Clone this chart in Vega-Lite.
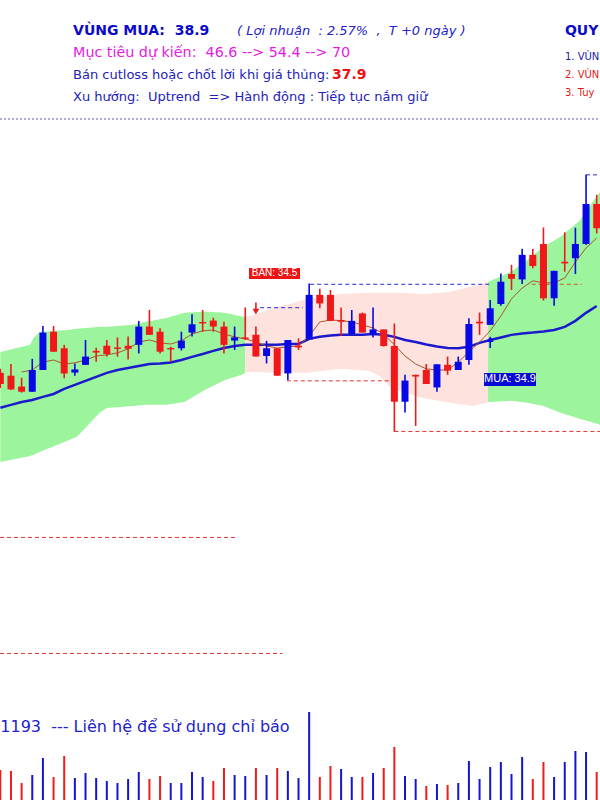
{
"$schema":"https://vega.github.io/schema/vega-lite/v6.json",
"width":600,"height":800,"padding":0,
"autosize":{"type":"none"},
"background":"white",
"config":{"view":{"stroke":null},"scale":{"continuousPadding":0}},
"datasets":{
"candles":[
{"i":0,"o":33.95,"h":34.09,"l":33.42,"c":33.56,"dir":"down","vol":300,"vdir":"down","ma20":32.73,"ma5":null},
{"i":1,"o":33.85,"h":34.26,"l":33.35,"c":33.37,"dir":"down","vol":290,"vdir":"down","ma20":32.83,"ma5":null},
{"i":2,"o":33.47,"h":33.78,"l":33.26,"c":33.29,"dir":"down","vol":170,"vdir":"down","ma20":32.93,"ma5":33.98},
{"i":3,"o":33.29,"h":34.44,"l":33.28,"c":34.05,"dir":"up","vol":250,"vdir":"up","ma20":33.00,"ma5":34.05},
{"i":4,"o":34.05,"h":35.59,"l":34.05,"c":35.36,"dir":"up","vol":420,"vdir":"up","ma20":33.11,"ma5":34.33},
{"i":5,"o":35.39,"h":35.59,"l":34.68,"c":34.69,"dir":"down","vol":230,"vdir":"down","ma20":33.21,"ma5":34.40},
{"i":6,"o":34.81,"h":34.93,"l":33.76,"c":33.93,"dir":"down","vol":440,"vdir":"down","ma20":33.39,"ma5":34.26},
{"i":7,"o":33.96,"h":34.28,"l":33.85,"c":34.07,"dir":"up","vol":220,"vdir":"up","ma20":33.53,"ma5":34.30},
{"i":8,"o":34.23,"h":35.10,"l":34.23,"c":34.52,"dir":"up","vol":270,"vdir":"up","ma20":33.67,"ma5":34.40},
{"i":9,"o":34.72,"h":34.83,"l":34.34,"c":34.66,"dir":"down","vol":220,"vdir":"up","ma20":33.81,"ma5":34.54},
{"i":10,"o":34.90,"h":35.10,"l":34.52,"c":34.61,"dir":"down","vol":190,"vdir":"up","ma20":33.95,"ma5":34.58},
{"i":11,"o":34.84,"h":35.19,"l":34.52,"c":34.79,"dir":"down","vol":170,"vdir":"up","ma20":34.05,"ma5":34.65},
{"i":12,"o":34.90,"h":35.22,"l":34.42,"c":34.79,"dir":"down","vol":210,"vdir":"up","ma20":34.12,"ma5":34.79},
{"i":13,"o":34.93,"h":35.77,"l":34.63,"c":35.57,"dir":"up","vol":280,"vdir":"up","ma20":34.19,"ma5":35.03},
{"i":14,"o":35.57,"h":36.15,"l":35.28,"c":35.28,"dir":"down","vol":210,"vdir":"down","ma20":34.26,"ma5":35.10},
{"i":15,"o":35.39,"h":35.51,"l":34.63,"c":34.69,"dir":"down","vol":240,"vdir":"down","ma20":34.28,"ma5":35.00},
{"i":16,"o":34.82,"h":34.87,"l":34.34,"c":34.77,"dir":"down","vol":170,"vdir":"up","ma20":34.31,"ma5":34.96},
{"i":17,"o":34.81,"h":35.39,"l":34.73,"c":35.08,"dir":"up","vol":170,"vdir":"up","ma20":34.40,"ma5":35.07},
{"i":18,"o":35.36,"h":36.00,"l":35.22,"c":35.65,"dir":"up","vol":280,"vdir":"up","ma20":34.51,"ma5":35.31},
{"i":19,"o":35.73,"h":36.15,"l":35.39,"c":35.68,"dir":"down","vol":230,"vdir":"up","ma20":34.61,"ma5":35.42},
{"i":20,"o":35.78,"h":35.88,"l":35.39,"c":35.57,"dir":"down","vol":190,"vdir":"down","ma20":34.72,"ma5":35.45},
{"i":21,"o":35.57,"h":35.74,"l":34.63,"c":34.93,"dir":"down","vol":320,"vdir":"down","ma20":34.82,"ma5":35.31},
{"i":22,"o":35.08,"h":35.57,"l":34.75,"c":35.19,"dir":"up","vol":250,"vdir":"up","ma20":34.89,"ma5":35.21},
{"i":23,"o":35.19,"h":36.24,"l":35.10,"c":35.14,"dir":"down","vol":240,"vdir":"up","ma20":34.93,"ma5":35.14},
{"i":24,"o":35.28,"h":35.57,"l":34.52,"c":34.52,"dir":"down","vol":320,"vdir":"down","ma20":34.93,"ma5":35.03},
{"i":25,"o":34.54,"h":35.07,"l":34.28,"c":34.81,"dir":"up","vol":250,"vdir":"up","ma20":34.93,"ma5":34.89},
{"i":26,"o":34.81,"h":34.81,"l":33.85,"c":33.85,"dir":"down","vol":320,"vdir":"down","ma20":34.93,"ma5":34.82},
{"i":27,"o":33.93,"h":35.10,"l":33.70,"c":35.10,"dir":"up","vol":290,"vdir":"up","ma20":34.96,"ma5":34.86},
{"i":28,"o":34.90,"h":35.16,"l":34.75,"c":34.84,"dir":"down","vol":220,"vdir":"up","ma20":34.96,"ma5":34.89},
{"i":29,"o":35.12,"h":37.08,"l":35.10,"c":36.68,"dir":"up","vol":880,"vdir":"up","ma20":35.14,"ma5":35.24},
{"i":30,"o":36.68,"h":36.89,"l":36.21,"c":36.38,"dir":"down","vol":230,"vdir":"down","ma20":35.21,"ma5":35.73},
{"i":31,"o":36.68,"h":36.85,"l":35.77,"c":35.77,"dir":"down","vol":340,"vdir":"down","ma20":35.26,"ma5":35.80},
{"i":32,"o":35.80,"h":36.24,"l":35.24,"c":35.74,"dir":"down","vol":310,"vdir":"up","ma20":35.28,"ma5":35.78},
{"i":33,"o":35.31,"h":36.15,"l":35.31,"c":35.77,"dir":"up","vol":230,"vdir":"up","ma20":35.28,"ma5":35.73},
{"i":34,"o":36.03,"h":36.06,"l":35.36,"c":35.36,"dir":"down","vol":230,"vdir":"down","ma20":35.28,"ma5":35.63},
{"i":35,"o":35.31,"h":36.24,"l":35.19,"c":35.47,"dir":"up","vol":270,"vdir":"up","ma20":35.31,"ma5":35.52},
{"i":36,"o":35.47,"h":35.47,"l":34.87,"c":34.89,"dir":"down","vol":320,"vdir":"down","ma20":35.28,"ma5":35.31},
{"i":37,"o":34.89,"h":35.68,"l":31.89,"c":32.94,"dir":"down","vol":530,"vdir":"down","ma20":35.21,"ma5":34.93},
{"i":38,"o":32.94,"h":33.88,"l":32.56,"c":33.68,"dir":"up","vol":240,"vdir":"up","ma20":35.10,"ma5":34.54},
{"i":39,"o":33.88,"h":33.89,"l":32.09,"c":33.82,"dir":"down","vol":210,"vdir":"up","ma20":35.03,"ma5":34.26},
{"i":40,"o":34.05,"h":34.26,"l":33.56,"c":33.56,"dir":"down","vol":140,"vdir":"down","ma20":34.94,"ma5":34.09},
{"i":41,"o":33.44,"h":34.25,"l":33.29,"c":34.25,"dir":"up","vol":160,"vdir":"up","ma20":34.87,"ma5":34.05},
{"i":42,"o":34.23,"h":34.52,"l":33.88,"c":34.03,"dir":"down","vol":150,"vdir":"down","ma20":34.82,"ma5":34.05},
{"i":43,"o":34.05,"h":34.52,"l":34.05,"c":34.34,"dir":"up","vol":170,"vdir":"up","ma20":34.81,"ma5":34.33},
{"i":44,"o":34.40,"h":35.86,"l":34.23,"c":35.66,"dir":"up","vol":390,"vdir":"up","ma20":34.86,"ma5":34.68},
{"i":45,"o":35.74,"h":36.06,"l":35.28,"c":35.68,"dir":"down","vol":210,"vdir":"up","ma20":35.00,"ma5":35.03},
{"i":46,"o":35.63,"h":36.50,"l":35.63,"c":36.21,"dir":"up","vol":330,"vdir":"up","ma20":35.10,"ma5":35.42},
{"i":47,"o":36.36,"h":37.43,"l":36.30,"c":37.14,"dir":"up","vol":380,"vdir":"up","ma20":35.19,"ma5":35.94},
{"i":48,"o":37.41,"h":37.73,"l":36.85,"c":37.24,"dir":"down","vol":260,"vdir":"up","ma20":35.28,"ma5":36.54},
{"i":49,"o":37.22,"h":38.29,"l":37.06,"c":38.08,"dir":"up","vol":430,"vdir":"up","ma20":35.33,"ma5":36.92},
{"i":50,"o":38.08,"h":38.29,"l":37.61,"c":37.69,"dir":"down","vol":210,"vdir":"down","ma20":35.36,"ma5":37.17},
{"i":51,"o":38.46,"h":39.04,"l":36.48,"c":36.56,"dir":"down","vol":380,"vdir":"down","ma20":35.40,"ma5":37.10},
{"i":52,"o":36.56,"h":37.52,"l":36.30,"c":37.52,"dir":"up","vol":230,"vdir":"up","ma20":35.45,"ma5":37.10},
{"i":53,"o":37.84,"h":38.87,"l":37.49,"c":37.78,"dir":"down","vol":380,"vdir":"up","ma20":35.56,"ma5":37.27},
{"i":54,"o":37.96,"h":39.03,"l":37.41,"c":38.46,"dir":"up","vol":490,"vdir":"up","ma20":35.77,"ma5":37.83},
{"i":55,"o":38.46,"h":40.88,"l":38.43,"c":39.86,"dir":"up","vol":480,"vdir":"up","ma20":36.05,"ma5":38.32},
{"i":56,"o":39.86,"h":40.18,"l":38.83,"c":39.01,"dir":"down","vol":280,"vdir":"down","ma20":36.29,"ma5":38.67}
],
"band":[
{"i":0,"up":34.68,"lo":30.83,"zone":"trend","seg":1},
{"i":2.8,"up":34.93,"lo":31.04,"zone":"trend","seg":1},
{"i":3.1,"up":35.17,"lo":31.08,"zone":"trend","seg":1},
{"i":3.7,"up":35.38,"lo":31.18,"zone":"trend","seg":1},
{"i":6.3,"up":35.45,"lo":31.57,"zone":"trend","seg":1},
{"i":7.2,"up":35.49,"lo":31.71,"zone":"trend","seg":1},
{"i":9.4,"up":35.56,"lo":32.58,"zone":"trend","seg":1},
{"i":10,"up":35.56,"lo":32.72,"zone":"trend","seg":1},
{"i":12.5,"up":35.63,"lo":32.79,"zone":"trend","seg":1},
{"i":13.6,"up":35.73,"lo":32.83,"zone":"trend","seg":1},
{"i":15.6,"up":35.87,"lo":32.83,"zone":"trend","seg":1},
{"i":17.3,"up":36.05,"lo":32.93,"zone":"trend","seg":1},
{"i":19.2,"up":36.10,"lo":33.35,"zone":"trend","seg":1},
{"i":21.1,"up":36.05,"lo":33.70,"zone":"trend","seg":1},
{"i":22.7,"up":35.92,"lo":33.88,"zone":"trend","seg":1},
{"i":23,"up":35.91,"lo":33.95,"zone":"trend","seg":1},
{"i":23,"up":35.91,"lo":33.98,"zone":"hold","seg":2},
{"i":23.9,"up":35.98,"lo":33.98,"zone":"hold","seg":2},
{"i":26,"up":36.26,"lo":33.95,"zone":"hold","seg":2},
{"i":27.2,"up":36.36,"lo":33.95,"zone":"hold","seg":2},
{"i":28.8,"up":36.54,"lo":33.95,"zone":"hold","seg":2},
{"i":31.9,"up":36.71,"lo":34.09,"zone":"hold","seg":2},
{"i":34.6,"up":36.75,"lo":34.02,"zone":"hold","seg":2},
{"i":35.6,"up":36.75,"lo":33.84,"zone":"hold","seg":2},
{"i":36.5,"up":36.75,"lo":33.49,"zone":"hold","seg":2},
{"i":37.5,"up":36.75,"lo":33.32,"zone":"hold","seg":2},
{"i":39.7,"up":36.71,"lo":33.07,"zone":"hold","seg":2},
{"i":42.2,"up":36.78,"lo":32.90,"zone":"hold","seg":2},
{"i":44.4,"up":36.99,"lo":32.79,"zone":"hold","seg":2},
{"i":45.8,"up":37.13,"lo":32.93,"zone":"hold","seg":2},
{"i":45.8,"up":37.13,"lo":32.93,"zone":"trend","seg":3},
{"i":47.9,"up":37.48,"lo":32.97,"zone":"trend","seg":3},
{"i":49.5,"up":37.90,"lo":32.90,"zone":"trend","seg":3},
{"i":51,"up":38.36,"lo":32.79,"zone":"trend","seg":3},
{"i":52.6,"up":38.71,"lo":32.55,"zone":"trend","seg":3},
{"i":54.4,"up":39.27,"lo":32.34,"zone":"trend","seg":3},
{"i":55.7,"up":39.97,"lo":32.20,"zone":"trend","seg":3},
{"i":56.31,"up":40.28,"lo":32.13,"zone":"trend","seg":3}
],
"levels":[
{"a":24.4,"b":28.4,"lvl":36.23,"side":"high"},
{"a":29.1,"b":46,"lvl":37.05,"side":"high"},
{"a":55.0,"b":56.31,"lvl":40.88,"side":"high"},
{"a":49.9,"b":54.6,"lvl":37.05,"side":"mid"},
{"a":26.9,"b":36.6,"lvl":33.67,"side":"low"},
{"a":37.0,"b":56.31,"lvl":31.90,"side":"low"},
{"a":-0.03,"b":22.3,"lvl":28.19,"side":"low"},
{"a":-0.03,"b":26.5,"lvl":24.13,"side":"low"}
],
"signals":[
{"i":24,"side":"sell","a":36.41,"b":36.17,"head":36.09},
{"i":46,"side":"buy","a":35.03,"b":34.82,"head":35.13}
]
},
"layer":[
{"layer":[
{"data":{"name":"band"},"mark":{"type":"area","clip":true},
 "encoding":{"x":{"field":"i","type":"quantitative","scale":{"domain":[-0.03,56.31],"nice":false,"zero":false,"padding":0},"axis":null},
 "y":{"field":"up","type":"quantitative","scale":{"domain":[19,47],"nice":false,"zero":false},"axis":null},
 "y2":{"field":"lo"},
 "color":{"field":"zone","type":"nominal","scale":{"domain":["trend","hold"],"range":["#9cf59c","#fde2de"]},"legend":null},
 "detail":{"field":"seg"}}},
{"data":{"name":"levels"},"mark":{"type":"rule","strokeDash":[4,3],"strokeWidth":1,"clip":true},
 "encoding":{"x":{"field":"a","type":"quantitative","scale":{"domain":[-0.03,56.31],"nice":false,"zero":false,"padding":0},"axis":null},
 "x2":{"field":"b"},
 "y":{"field":"lvl","type":"quantitative","scale":{"domain":[19,47],"nice":false,"zero":false},"axis":null},
 "color":{"field":"side","type":"nominal","scale":{"domain":["high","mid","low"],"range":["#2a2ad6","#d0562e","#e23030"]},"legend":null}}},
{"data":{"values":[{"t":"sep"}]},"mark":{"type":"rule","strokeDash":[2,2],"strokeWidth":1,"color":"#5a5ac8"},
 "encoding":{"x":{"datum":-0.03,"type":"quantitative","scale":{"domain":[-0.03,56.31],"nice":false,"zero":false,"padding":0},"axis":null},
 "x2":{"datum":56.31},
 "y":{"datum":42.835,"type":"quantitative","scale":{"domain":[19,47],"nice":false,"zero":false},"axis":null}}},
{"data":{"name":"candles"},"mark":{"type":"line","color":"#1a1acc","strokeWidth":2.5,"clip":true},
 "encoding":{"x":{"field":"i","type":"quantitative","scale":{"domain":[-0.03,56.31],"nice":false,"zero":false,"padding":0},"axis":null},
 "y":{"field":"ma20","type":"quantitative","scale":{"domain":[19,47],"nice":false,"zero":false},"axis":null}}},
{"data":{"name":"candles"},"mark":{"type":"line","color":"#a8552a","strokeWidth":1,"clip":true},
 "encoding":{"x":{"field":"i","type":"quantitative","scale":{"domain":[-0.03,56.31],"nice":false,"zero":false,"padding":0},"axis":null},
 "y":{"field":"ma5","type":"quantitative","scale":{"domain":[19,47],"nice":false,"zero":false},"axis":null}}},
{"data":{"name":"candles"},"mark":{"type":"rule","strokeWidth":1.6,"clip":true},
 "encoding":{"x":{"field":"i","type":"quantitative","scale":{"domain":[-0.03,56.31],"nice":false,"zero":false,"padding":0},"axis":null},
 "y":{"field":"l","type":"quantitative","scale":{"domain":[19,47],"nice":false,"zero":false},"axis":null},
 "y2":{"field":"h"},
 "color":{"field":"dir","type":"nominal","scale":{"domain":["up","down"],"range":["#0808e6","#f01818"]},"legend":null}}},
{"data":{"name":"candles"},"mark":{"type":"bar","width":7,"clip":true},
 "encoding":{"x":{"field":"i","type":"quantitative","scale":{"domain":[-0.03,56.31],"nice":false,"zero":false,"padding":0},"axis":null},
 "y":{"field":"o","type":"quantitative","scale":{"domain":[19,47],"nice":false,"zero":false},"axis":null},
 "y2":{"field":"c"},
 "color":{"field":"dir","type":"nominal","scale":{"domain":["up","down"],"range":["#0808e6","#f01818"]},"legend":null}}},
{"data":{"name":"signals"},"mark":{"type":"rule","strokeWidth":1.6},
 "encoding":{"x":{"field":"i","type":"quantitative","scale":{"domain":[-0.03,56.31],"nice":false,"zero":false,"padding":0},"axis":null},
 "y":{"field":"a","type":"quantitative","scale":{"domain":[19,47],"nice":false,"zero":false},"axis":null},
 "y2":{"field":"b"},
 "color":{"field":"side","type":"nominal","scale":{"domain":["buy","sell"],"range":["#0808e6","#f01818"]},"legend":null}}},
{"data":{"name":"signals"},"mark":{"type":"point","filled":true,"size":45,"opacity":1},
 "encoding":{"x":{"field":"i","type":"quantitative","scale":{"domain":[-0.03,56.31],"nice":false,"zero":false,"padding":0},"axis":null},
 "y":{"field":"head","type":"quantitative","scale":{"domain":[19,47],"nice":false,"zero":false},"axis":null},
 "shape":{"field":"side","type":"nominal","scale":{"domain":["buy","sell"],"range":["triangle-up","triangle-down"]},"legend":null},
 "color":{"field":"side","type":"nominal","scale":{"domain":["buy","sell"],"range":["#0808e6","#f01818"]},"legend":null}}},
{"data":{"values":[{"t":"BÁN: 34.5"}]},"mark":{"type":"rect","color":"#ee1414"},
 "encoding":{"x":{"datum":23.35,"type":"quantitative","scale":{"domain":[-0.03,56.31],"nice":false,"zero":false,"padding":0},"axis":null},
 "x2":{"datum":28.14},
 "y":{"datum":37.62,"type":"quantitative","scale":{"domain":[19,47],"nice":false,"zero":false},"axis":null},
 "y2":{"datum":37.235}}},
{"data":{"values":[{"t":"BÁN: 34.5"}]},"mark":{"type":"text","align":"center","baseline":"middle","font":"Liberation Sans","fontSize":10,"color":"white"},
 "encoding":{"text":{"field":"t"},"x":{"datum":25.75,"type":"quantitative","scale":{"domain":[-0.03,56.31],"nice":false,"zero":false,"padding":0},"axis":null},
 "y":{"datum":37.43,"type":"quantitative","scale":{"domain":[19,47],"nice":false,"zero":false},"axis":null}}},
{"data":{"values":[{"t":"MUA: 34.9"}]},"mark":{"type":"rect","color":"#0a0ad6"},
 "encoding":{"x":{"datum":45.42,"type":"quantitative","scale":{"domain":[-0.03,56.31],"nice":false,"zero":false,"padding":0},"axis":null},
 "x2":{"datum":50.3},
 "y":{"datum":33.945,"type":"quantitative","scale":{"domain":[19,47],"nice":false,"zero":false},"axis":null},
 "y2":{"datum":33.49}}},
{"data":{"values":[{"t":"MUA: 34.9"}]},"mark":{"type":"text","align":"center","baseline":"middle","font":"Liberation Sans","fontSize":11,"color":"white"},
 "encoding":{"text":{"field":"t"},"x":{"datum":47.86,"type":"quantitative","scale":{"domain":[-0.03,56.31],"nice":false,"zero":false,"padding":0},"axis":null},
 "y":{"datum":33.72,"type":"quantitative","scale":{"domain":[19,47],"nice":false,"zero":false},"axis":null}}},
{"data":{"values":[{"t":"VÙNG MUA:\u00a0\u00a038.9"}]},"mark":{"type":"text","align":"left","baseline":"middle","font":"DejaVu Sans","fontSize":14,"fontWeight":"bold","color":"#0a0ac8"},
 "encoding":{"text":{"field":"t"},"x":{"datum":6.83,"type":"quantitative","scale":{"domain":[-0.03,56.31],"nice":false,"zero":false,"padding":0},"axis":null},
 "y":{"datum":45.915,"type":"quantitative","scale":{"domain":[19,47],"nice":false,"zero":false},"axis":null}}},
{"data":{"values":[{"t":"( Lợi nhuận\u00a0 : 2.57%\u00a0 ,\u00a0 T +0 ngày )"}]},"mark":{"type":"text","align":"left","baseline":"middle","font":"DejaVu Sans","fontSize":13,"fontStyle":"italic","color":"#2222cc"},
 "encoding":{"text":{"field":"t"},"x":{"datum":22.23,"type":"quantitative","scale":{"domain":[-0.03,56.31],"nice":false,"zero":false,"padding":0},"axis":null},
 "y":{"datum":45.915,"type":"quantitative","scale":{"domain":[19,47],"nice":false,"zero":false},"axis":null}}},
{"data":{"values":[{"t":"QUY"}]},"mark":{"type":"text","align":"left","baseline":"middle","font":"DejaVu Sans","fontSize":14,"fontWeight":"bold","color":"#0a0ac8"},
 "encoding":{"text":{"field":"t"},"x":{"datum":53.02,"type":"quantitative","scale":{"domain":[-0.03,56.31],"nice":false,"zero":false,"padding":0},"axis":null},
 "y":{"datum":45.915,"type":"quantitative","scale":{"domain":[19,47],"nice":false,"zero":false},"axis":null}}},
{"data":{"values":[{"t":"Mục tiêu dự kiến:\u00a0\u00a046.6 --> 54.4 --> 70"}]},"mark":{"type":"text","align":"left","baseline":"middle","font":"DejaVu Sans","fontSize":14.3,"color":"#e619e6"},
 "encoding":{"text":{"field":"t"},"x":{"datum":6.83,"type":"quantitative","scale":{"domain":[-0.03,56.31],"nice":false,"zero":false,"padding":0},"axis":null},
 "y":{"datum":45.145,"type":"quantitative","scale":{"domain":[19,47],"nice":false,"zero":false},"axis":null}}},
{"data":{"values":[{"t":"1. VÙN"}]},"mark":{"type":"text","align":"left","baseline":"middle","font":"DejaVu Sans","fontSize":10,"color":"#1a1aa8"},
 "encoding":{"text":{"field":"t"},"x":{"datum":53.02,"type":"quantitative","scale":{"domain":[-0.03,56.31],"nice":false,"zero":false,"padding":0},"axis":null},
 "y":{"datum":45.005,"type":"quantitative","scale":{"domain":[19,47],"nice":false,"zero":false},"axis":null}}},
{"data":{"values":[{"t":"Bán cutloss hoặc chốt lời khi giá thủng:"}]},"mark":{"type":"text","align":"left","baseline":"middle","font":"DejaVu Sans","fontSize":13,"color":"#2222bb"},
 "encoding":{"text":{"field":"t"},"x":{"datum":6.83,"type":"quantitative","scale":{"domain":[-0.03,56.31],"nice":false,"zero":false,"padding":0},"axis":null},
 "y":{"datum":44.375,"type":"quantitative","scale":{"domain":[19,47],"nice":false,"zero":false},"axis":null}}},
{"data":{"values":[{"t":"37.9"}]},"mark":{"type":"text","align":"left","baseline":"middle","font":"DejaVu Sans","fontSize":14,"fontWeight":"bold","color":"#ee1111"},
 "encoding":{"text":{"field":"t"},"x":{"datum":31.15,"type":"quantitative","scale":{"domain":[-0.03,56.31],"nice":false,"zero":false,"padding":0},"axis":null},
 "y":{"datum":44.375,"type":"quantitative","scale":{"domain":[19,47],"nice":false,"zero":false},"axis":null}}},
{"data":{"values":[{"t":"2. VÙN"}]},"mark":{"type":"text","align":"left","baseline":"middle","font":"DejaVu Sans","fontSize":10,"color":"#e01a1a"},
 "encoding":{"text":{"field":"t"},"x":{"datum":53.02,"type":"quantitative","scale":{"domain":[-0.03,56.31],"nice":false,"zero":false,"padding":0},"axis":null},
 "y":{"datum":44.375,"type":"quantitative","scale":{"domain":[19,47],"nice":false,"zero":false},"axis":null}}},
{"data":{"values":[{"t":"Xu hướng:\u00a0\u00a0Uptrend\u00a0\u00a0=> Hành động : Tiếp tục nắm giữ"}]},"mark":{"type":"text","align":"left","baseline":"middle","font":"DejaVu Sans","fontSize":13,"color":"#2222bb"},
 "encoding":{"text":{"field":"t"},"x":{"datum":6.83,"type":"quantitative","scale":{"domain":[-0.03,56.31],"nice":false,"zero":false,"padding":0},"axis":null},
 "y":{"datum":43.605,"type":"quantitative","scale":{"domain":[19,47],"nice":false,"zero":false},"axis":null}}},
{"data":{"values":[{"t":"3. Tuy"}]},"mark":{"type":"text","align":"left","baseline":"middle","font":"DejaVu Sans","fontSize":10,"color":"#e01a1a"},
 "encoding":{"text":{"field":"t"},"x":{"datum":53.02,"type":"quantitative","scale":{"domain":[-0.03,56.31],"nice":false,"zero":false,"padding":0},"axis":null},
 "y":{"datum":43.745,"type":"quantitative","scale":{"domain":[19,47],"nice":false,"zero":false},"axis":null}}},
{"data":{"values":[{"t":"1193\u00a0\u00a0--- Liên hệ để sử dụng chỉ báo"}]},"mark":{"type":"text","align":"left","baseline":"middle","font":"DejaVu Sans","fontSize":16,"color":"#2222cc"},
 "encoding":{"text":{"field":"t"},"x":{"datum":0.0,"type":"quantitative","scale":{"domain":[-0.03,56.31],"nice":false,"zero":false,"padding":0},"axis":null},
 "y":{"datum":21.555,"type":"quantitative","scale":{"domain":[19,47],"nice":false,"zero":false},"axis":null}}}
],
"resolve":{"scale":{"color":"independent","shape":"independent"}}},
{"data":{"name":"candles"},"mark":{"type":"rule","strokeWidth":2},
 "encoding":{"x":{"field":"i","type":"quantitative","scale":{"domain":[-0.03,56.31],"nice":false,"zero":false,"padding":0},"axis":null},
 "y":{"field":"vol","type":"quantitative","scale":{"domain":[0,8000],"nice":false,"zero":false},"axis":null},
 "y2":{"datum":0},
 "color":{"field":"vdir","type":"nominal","scale":{"domain":["up","down"],"range":["#1414d2","#ee1c1c"]},"legend":null}}}
],
"resolve":{"scale":{"y":"independent","color":"independent"}}
}
